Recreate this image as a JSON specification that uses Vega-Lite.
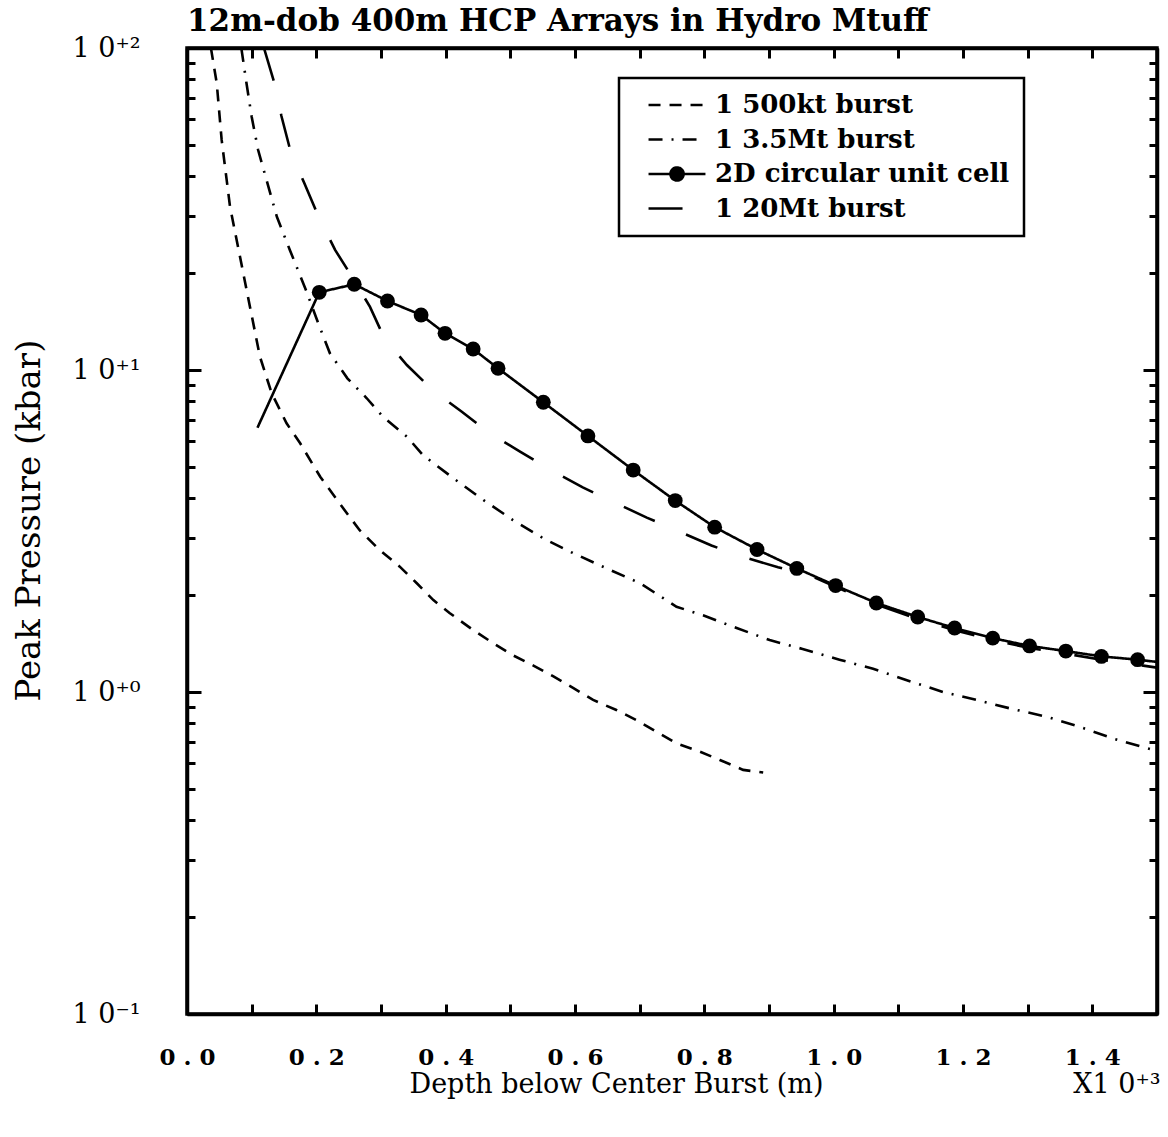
{
  "$schema": "https://vega.github.io/schema/vega-lite/v6.json",
  "width": 970,
  "height": 966,
  "autosize": "none",
  "padding": {"left": 187, "top": 48, "right": 11, "bottom": 123},
  "background": "white",
  "title": {"text": "12m-dob 400m HCP Arrays in Hydro Mtuff", "anchor": "start", "frame": "group", "font": "DejaVu Serif", "fontSize": 31, "fontWeight": "bold", "color": "black", "offset": 14, "baseline": "alphabetic", "dy": 42},
  "datasets": {
    "curves": [
      {"s": "1 500kt burst", "x": 37, "p": 100, "m": 0},
      {"s": "1 500kt burst", "x": 46, "p": 77.7, "m": 0},
      {"s": "1 500kt burst", "x": 53.6, "p": 51.8, "m": 0},
      {"s": "1 500kt burst", "x": 66.5, "p": 32.2, "m": 0},
      {"s": "1 500kt burst", "x": 81.9, "p": 22.5, "m": 0},
      {"s": "1 500kt burst", "x": 97.4, "p": 15.7, "m": 0},
      {"s": "1 500kt burst", "x": 112.8, "p": 11.0, "m": 0},
      {"s": "1 500kt burst", "x": 130.9, "p": 8.47, "m": 0},
      {"s": "1 500kt burst", "x": 154, "p": 6.83, "m": 0},
      {"s": "1 500kt burst", "x": 175, "p": 5.92, "m": 0},
      {"s": "1 500kt burst", "x": 206, "p": 4.66, "m": 0},
      {"s": "1 500kt burst", "x": 236, "p": 3.85, "m": 0},
      {"s": "1 500kt burst", "x": 267, "p": 3.18, "m": 0},
      {"s": "1 500kt burst", "x": 298, "p": 2.76, "m": 0},
      {"s": "1 500kt burst", "x": 329, "p": 2.45, "m": 0},
      {"s": "1 500kt burst", "x": 355, "p": 2.18, "m": 0},
      {"s": "1 500kt burst", "x": 381, "p": 1.93, "m": 0},
      {"s": "1 500kt burst", "x": 406, "p": 1.76, "m": 0},
      {"s": "1 500kt burst", "x": 442, "p": 1.56, "m": 0},
      {"s": "1 500kt burst", "x": 473, "p": 1.42, "m": 0},
      {"s": "1 500kt burst", "x": 504, "p": 1.30, "m": 0},
      {"s": "1 500kt burst", "x": 535, "p": 1.21, "m": 0},
      {"s": "1 500kt burst", "x": 566, "p": 1.12, "m": 0},
      {"s": "1 500kt burst", "x": 597, "p": 1.03, "m": 0},
      {"s": "1 500kt burst", "x": 628, "p": 0.945, "m": 0},
      {"s": "1 500kt burst", "x": 664, "p": 0.879, "m": 0},
      {"s": "1 500kt burst", "x": 695, "p": 0.818, "m": 0},
      {"s": "1 500kt burst", "x": 726, "p": 0.753, "m": 0},
      {"s": "1 500kt burst", "x": 757, "p": 0.693, "m": 0},
      {"s": "1 500kt burst", "x": 793, "p": 0.653, "m": 0},
      {"s": "1 500kt burst", "x": 824, "p": 0.615, "m": 0},
      {"s": "1 500kt burst", "x": 860, "p": 0.573, "m": 0},
      {"s": "1 500kt burst", "x": 891, "p": 0.562, "m": 0},

      {"s": "1 3.5Mt burst", "x": 84, "p": 100, "m": 0},
      {"s": "1 3.5Mt burst", "x": 92, "p": 77.7, "m": 0},
      {"s": "1 3.5Mt burst", "x": 100, "p": 61.2, "m": 0},
      {"s": "1 3.5Mt burst", "x": 110, "p": 48.2, "m": 0},
      {"s": "1 3.5Mt burst", "x": 123, "p": 38.9, "m": 0},
      {"s": "1 3.5Mt burst", "x": 139, "p": 29.9, "m": 0},
      {"s": "1 3.5Mt burst", "x": 159, "p": 23.6, "m": 0},
      {"s": "1 3.5Mt burst", "x": 185, "p": 17.5, "m": 0},
      {"s": "1 3.5Mt burst", "x": 203, "p": 13.96, "m": 0},
      {"s": "1 3.5Mt burst", "x": 221, "p": 11.27, "m": 0},
      {"s": "1 3.5Mt burst", "x": 248, "p": 9.42, "m": 0},
      {"s": "1 3.5Mt burst", "x": 278, "p": 8.17, "m": 0},
      {"s": "1 3.5Mt burst", "x": 303, "p": 7.16, "m": 0},
      {"s": "1 3.5Mt burst", "x": 340, "p": 6.21, "m": 0},
      {"s": "1 3.5Mt burst", "x": 365, "p": 5.44, "m": 0},
      {"s": "1 3.5Mt burst", "x": 412, "p": 4.61, "m": 0},
      {"s": "1 3.5Mt burst", "x": 458, "p": 3.95, "m": 0},
      {"s": "1 3.5Mt burst", "x": 504, "p": 3.42, "m": 0},
      {"s": "1 3.5Mt burst", "x": 551, "p": 3.00, "m": 0},
      {"s": "1 3.5Mt burst", "x": 597, "p": 2.70, "m": 0},
      {"s": "1 3.5Mt burst", "x": 649, "p": 2.42, "m": 0},
      {"s": "1 3.5Mt burst", "x": 700, "p": 2.18, "m": 0},
      {"s": "1 3.5Mt burst", "x": 741, "p": 1.93, "m": 0},
      {"s": "1 3.5Mt burst", "x": 757, "p": 1.84, "m": 0},
      {"s": "1 3.5Mt burst", "x": 798, "p": 1.73, "m": 0},
      {"s": "1 3.5Mt burst", "x": 850, "p": 1.58, "m": 0},
      {"s": "1 3.5Mt burst", "x": 901, "p": 1.45, "m": 0},
      {"s": "1 3.5Mt burst", "x": 952, "p": 1.36, "m": 0},
      {"s": "1 3.5Mt burst", "x": 1009, "p": 1.26, "m": 0},
      {"s": "1 3.5Mt burst", "x": 1061, "p": 1.18, "m": 0},
      {"s": "1 3.5Mt burst", "x": 1112, "p": 1.09, "m": 0},
      {"s": "1 3.5Mt burst", "x": 1169, "p": 1.00, "m": 0},
      {"s": "1 3.5Mt burst", "x": 1221, "p": 0.945, "m": 0},
      {"s": "1 3.5Mt burst", "x": 1272, "p": 0.89, "m": 0},
      {"s": "1 3.5Mt burst", "x": 1329, "p": 0.838, "m": 0},
      {"s": "1 3.5Mt burst", "x": 1380, "p": 0.78, "m": 0},
      {"s": "1 3.5Mt burst", "x": 1432, "p": 0.717, "m": 0},
      {"s": "1 3.5Mt burst", "x": 1483, "p": 0.67, "m": 0},
      {"s": "1 3.5Mt burst", "x": 1500, "p": 0.656, "m": 0},

      {"s": "2D circular unit cell", "x": 109, "p": 6.62, "m": 0},
      {"s": "2D circular unit cell", "x": 204.5, "p": 17.43, "m": 1},
      {"s": "2D circular unit cell", "x": 258.6, "p": 18.46, "m": 1},
      {"s": "2D circular unit cell", "x": 310, "p": 16.38, "m": 1},
      {"s": "2D circular unit cell", "x": 362, "p": 14.82, "m": 1},
      {"s": "2D circular unit cell", "x": 399, "p": 13.0, "m": 1},
      {"s": "2D circular unit cell", "x": 442.5, "p": 11.62, "m": 1},
      {"s": "2D circular unit cell", "x": 481, "p": 10.12, "m": 1},
      {"s": "2D circular unit cell", "x": 551, "p": 7.94, "m": 1},
      {"s": "2D circular unit cell", "x": 620, "p": 6.24, "m": 1},
      {"s": "2D circular unit cell", "x": 690, "p": 4.89, "m": 1},
      {"s": "2D circular unit cell", "x": 755, "p": 3.93, "m": 1},
      {"s": "2D circular unit cell", "x": 816, "p": 3.25, "m": 1},
      {"s": "2D circular unit cell", "x": 881.5, "p": 2.77, "m": 1},
      {"s": "2D circular unit cell", "x": 943, "p": 2.42, "m": 1},
      {"s": "2D circular unit cell", "x": 1003, "p": 2.14, "m": 1},
      {"s": "2D circular unit cell", "x": 1066, "p": 1.89, "m": 1},
      {"s": "2D circular unit cell", "x": 1130, "p": 1.71, "m": 1},
      {"s": "2D circular unit cell", "x": 1187, "p": 1.58, "m": 1},
      {"s": "2D circular unit cell", "x": 1246, "p": 1.47, "m": 1},
      {"s": "2D circular unit cell", "x": 1303, "p": 1.39, "m": 1},
      {"s": "2D circular unit cell", "x": 1359, "p": 1.34, "m": 1},
      {"s": "2D circular unit cell", "x": 1414, "p": 1.29, "m": 1},
      {"s": "2D circular unit cell", "x": 1470, "p": 1.26, "m": 1},
      {"s": "2D circular unit cell", "x": 1500, "p": 1.24, "m": 0},

      {"s": "1 20Mt burst", "x": 119, "p": 100, "m": 0},
      {"s": "1 20Mt burst", "x": 135, "p": 78, "m": 0},
      {"s": "1 20Mt burst", "x": 146, "p": 61.5, "m": 0},
      {"s": "1 20Mt burst", "x": 160, "p": 47.9, "m": 0},
      {"s": "1 20Mt burst", "x": 181, "p": 38.2, "m": 0},
      {"s": "1 20Mt burst", "x": 203, "p": 30.1, "m": 0},
      {"s": "1 20Mt burst", "x": 229, "p": 23.6, "m": 0},
      {"s": "1 20Mt burst", "x": 255, "p": 19.5, "m": 0},
      {"s": "1 20Mt burst", "x": 283, "p": 15.7, "m": 0},
      {"s": "1 20Mt burst", "x": 306, "p": 12.45, "m": 0},
      {"s": "1 20Mt burst", "x": 340, "p": 10.36, "m": 0},
      {"s": "1 20Mt burst", "x": 381, "p": 8.62, "m": 0},
      {"s": "1 20Mt burst", "x": 425, "p": 7.42, "m": 0},
      {"s": "1 20Mt burst", "x": 468, "p": 6.36, "m": 0},
      {"s": "1 20Mt burst", "x": 515, "p": 5.58, "m": 0},
      {"s": "1 20Mt burst", "x": 564, "p": 4.87, "m": 0},
      {"s": "1 20Mt burst", "x": 612, "p": 4.32, "m": 0},
      {"s": "1 20Mt burst", "x": 662, "p": 3.87, "m": 0},
      {"s": "1 20Mt burst", "x": 711, "p": 3.48, "m": 0},
      {"s": "1 20Mt burst", "x": 761, "p": 3.15, "m": 0},
      {"s": "1 20Mt burst", "x": 811, "p": 2.85, "m": 0},
      {"s": "1 20Mt burst", "x": 862, "p": 2.62, "m": 0},
      {"s": "1 20Mt burst", "x": 914, "p": 2.44, "m": 0},
      {"s": "1 20Mt burst", "x": 968, "p": 2.28, "m": 0},
      {"s": "1 20Mt burst", "x": 1003, "p": 2.12, "m": 0},
      {"s": "1 20Mt burst", "x": 1066, "p": 1.87, "m": 0},
      {"s": "1 20Mt burst", "x": 1130, "p": 1.685, "m": 0},
      {"s": "1 20Mt burst", "x": 1187, "p": 1.555, "m": 0},
      {"s": "1 20Mt burst", "x": 1246, "p": 1.45, "m": 0},
      {"s": "1 20Mt burst", "x": 1303, "p": 1.37, "m": 0},
      {"s": "1 20Mt burst", "x": 1359, "p": 1.315, "m": 0},
      {"s": "1 20Mt burst", "x": 1414, "p": 1.26, "m": 0},
      {"s": "1 20Mt burst", "x": 1470, "p": 1.215, "m": 0},
      {"s": "1 20Mt burst", "x": 1500, "p": 1.19, "m": 0}
    ]
  },
  "data": {"name": "curves"},
  "layer": [
    {
      "mark": {"type": "line", "color": "black", "strokeWidth": 2.6, "clip": true},
      "encoding": {
        "x": {
          "field": "x", "type": "quantitative",
          "scale": {"domain": [0, 1500], "nice": false, "zero": false},
          "axis": {
            "orient": "bottom",
            "values": [0, 100, 200, 300, 400, 500, 600, 700, 800, 900, 1000, 1100, 1200, 1300, 1400, 1500],
            "tickSize": -10, "tickWidth": 3,
            "labelExpr": "datum.value % 200 === 0 && datum.value < 1500 ? replace(format(datum.value / 1000, '.1f'), '.', ' . ') : ''",
            "labelFont": "DejaVu Serif", "labelFontWeight": "bold", "labelFontSize": 23,
            "labelPadding": 42, "labelDx": -5, "labelFlush": false, "labelOverlap": false, "labelBound": false,
            "title": "Depth below Center Burst (m)\u2003\u2003\u2003\u2003\u2003\u2003\u2003\u2003\u2003\u2005X1 0\u207A\u00B3",
            "titleFont": "DejaVu Serif", "titleFontSize": 27, "titleFontWeight": "normal",
            "titleX": 973, "titleY": 78, "titleAlign": "right", "titleBaseline": "alphabetic", "titleAnchor": "end"
          }
        },
        "y": {
          "field": "p", "type": "quantitative",
          "scale": {"type": "log", "domain": [0.1, 100], "nice": false},
          "axis": {
            "orient": "left",
            "values": [0.1, 1, 10, 100],
            "tickSize": -14, "tickWidth": 3,
            "labelExpr": "datum.value >= 99 ? '1 0\u207A\u00B2' : datum.value >= 9 ? '1 0\u207A\u00B9' : datum.value >= 0.9 ? '1 0\u207A\u2070' : '1 0\u207B\u00B9'",
            "labelFont": "DejaVu Serif", "labelFontSize": 27,
            "labelPadding": 61, "labelDy": 4, "labelFlush": false, "labelOverlap": false, "labelBound": false,
            "title": "Peak Pressure (kbar)",
            "titleFont": "DejaVu Serif", "titleFontSize": 34, "titleFontWeight": "normal",
            "titleX": -158, "titleY": 472, "titleAngle": 270, "titleAlign": "center", "titleBaseline": "middle"
          }
        },
        "strokeDash": {
          "field": "s", "type": "nominal",
          "scale": {
            "domain": ["1 500kt burst", "1 3.5Mt burst", "2D circular unit cell", "1 20Mt burst"],
            "range": [[12, 9], [14, 9, 2, 9], [1, 0], [34, 34]]
          },
          "legend": {
            "orient": "none", "legendX": 432, "legendY": 30, "title": null,
            "symbolType": "stroke", "symbolSize": 529, "symbolStrokeWidth": 2.6, "symbolStrokeColor": "black",
            "labelFont": "DejaVu Serif", "labelFontWeight": "bold", "labelFontSize": 26, "labelColor": "black",
            "labelOffset": 56, "labelLimit": 500, "rowPadding": 8.5, "padding": 14,
            "strokeColor": "black", "fillColor": "white",
            "encode": {
              "symbols": {"update": {
                "shape": {"signal": "datum.value === '2D circular unit cell' ? 'M0.22,0H5.17M2.13,0A0.57,0.57,0,1,1,3.27,0A0.57,0.57,0,1,1,2.13,0Z' : 'M0.22,0H5.17'"},
                "fill": {"signal": "datum.value === '2D circular unit cell' ? 'black' : 'transparent'"},
                "stroke": {"value": "black"},
                "strokeWidth": {"value": 2.6}
              }},
              "legend": {"update": {"strokeWidth": {"value": 2.5}}}
            }
          }
        }
      }
    },
    {
      "transform": [{"filter": "datum.m === 1"}],
      "mark": {"type": "point", "filled": true, "color": "black", "size": 220, "opacity": 1},
      "encoding": {
        "x": {"field": "x", "type": "quantitative",
          "axis": {"orient": "top", "values": [0, 100, 200, 300, 400, 500, 600, 700, 800, 900, 1000, 1100, 1200, 1300, 1400, 1500], "tickSize": -10, "tickWidth": 3, "labels": false, "title": null}},
        "y": {"field": "p", "type": "quantitative",
          "axis": {"orient": "right", "values": [0.1, 1, 10, 100], "tickSize": -14, "tickWidth": 3, "labels": false, "title": null}}
      }
    },
    {
      "mark": {"type": "point", "opacity": 0},
      "encoding": {
        "x": {"field": "x", "type": "quantitative", "axis": null},
        "y": {"field": "p", "type": "quantitative",
          "axis": {"orient": "left", "values": [0.2, 0.3, 0.4, 0.5, 0.6, 0.7, 0.8, 0.9, 2, 3, 4, 5, 6, 7, 8, 9, 20, 30, 40, 50, 60, 70, 80, 90], "tickSize": -8, "tickWidth": 3, "labels": false, "title": null, "domain": false}}
      }
    },
    {
      "mark": {"type": "point", "opacity": 0},
      "encoding": {
        "x": {"field": "x", "type": "quantitative", "axis": null},
        "y": {"field": "p", "type": "quantitative",
          "axis": {"orient": "right", "values": [0.2, 0.3, 0.4, 0.5, 0.6, 0.7, 0.8, 0.9, 2, 3, 4, 5, 6, 7, 8, 9, 20, 30, 40, 50, 60, 70, 80, 90], "tickSize": -8, "tickWidth": 3, "labels": false, "title": null, "domain": false}}
      }
    }
  ],
  "resolve": {"axis": {"x": "independent", "y": "independent"}, "scale": {"x": "shared", "y": "shared"}},
  "config": {
    "font": "DejaVu Serif",
    "view": {"stroke": "black", "strokeWidth": 3.5},
    "axis": {"domainColor": "black", "domainWidth": 3.5, "tickColor": "black", "grid": false, "labelColor": "black", "titleColor": "black"}
  }
}
